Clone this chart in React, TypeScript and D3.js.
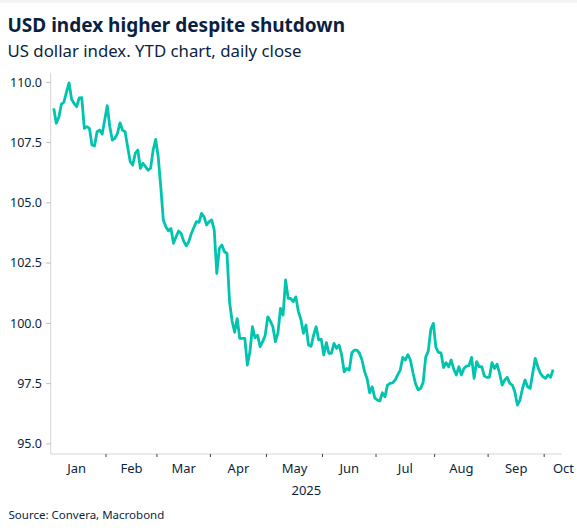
import React from "react";
import * as d3 from "d3";

// ---- Data (daily close, weekdays from 3 Jan 2025) ----
const startDate = "2025-01-03";
const jan = [108.92, 108.3, 108.55, 109.1, 109.18, 109.6, 109.98, 109.3, 109.12, 108.99, 109.35, 109.36, 108.09, 108.16, 108.09, 107.4, 107.36, 107.95, 108.02, 107.85, 108.44];
const feb = [109.03, 108.16, 107.6, 107.68, 107.88, 108.32, 108.02, 107.95, 107.33, 106.71, 106.57, 107.05, 107.19, 106.43, 106.64, 106.5, 106.36, 106.43, 107.19, 107.63];
const mar = [106.91, 105.67, 104.29, 104.01, 103.84, 103.94, 103.32, 103.59, 103.83, 103.73, 103.41, 103.22, 103.39, 103.73, 103.98, 104.22, 104.19, 104.56, 104.42, 104.08, 104.22];
const apr = [104.29, 103.87, 102.07, 103.11, 103.25, 102.97, 102.9, 100.9, 100.1, 99.63, 100.2, 99.38, 99.38, 99.38, 98.27, 98.82, 99.86, 99.4, 99.51, 99.03, 99.24, 99.51];
const may = [100.27, 100.1, 99.86, 99.24, 99.6, 100.62, 100.34, 101.8, 101.04, 101.04, 100.9, 101.1, 100.5, 100.17, 99.59, 99.93, 99.1, 99.05, 99.51, 99.86, 99.31, 99.34];
const jun = [98.69, 99.2, 98.76, 98.76, 99.17, 98.96, 99.1, 98.7, 97.99, 98.13, 98.06, 98.78, 98.89, 98.89, 98.76, 98.48, 98.0, 97.7, 97.12, 97.37, 96.91];
const jul = [96.82, 96.78, 97.12, 96.95, 97.44, 97.51, 97.53, 97.65, 97.86, 98.06, 98.59, 98.48, 98.7, 98.48, 97.95, 97.5, 97.25, 97.3, 97.55, 98.6, 98.85, 99.75, 100.0];
const aug = [99.0, 98.8, 98.78, 98.17, 98.37, 98.2, 98.48, 98.1, 97.86, 98.2, 97.86, 98.13, 98.23, 98.25, 98.59, 97.72, 98.41, 98.2, 98.2, 97.82, 97.76];
const sep = [97.76, 98.37, 98.13, 98.31, 97.93, 97.44, 97.65, 97.76, 97.51, 97.44, 97.15, 96.61, 96.82, 97.3, 97.65, 97.37, 97.3, 97.93, 98.55, 98.2, 97.93, 97.79];
const oct = [97.72, 97.86, 97.76, 98.08];

const monthLabels = ["Jan", "Feb", "Mar", "Apr", "May", "Jun", "Jul", "Aug", "Sep", "Oct"];
const yTicks = [95, 97.5, 100, 102.5, 105, 107.5, 110];
const yearLabel = "2025";
const title = "USD index higher despite shutdown";
const subtitle = "US dollar index. YTD chart, daily close";
const source = "Source: Convera, Macrobond";

const W = 577;
const H = 531;
const FONT = "'Segoe UI', 'Noto Sans', 'Open Sans', sans-serif";
const NAVY = "#0b1f3f";
const TEAL = "#00c4ae";

// all weekdays of the year up to end of October (axis is in trading days)
const allDays = d3
  .timeDay.range(new Date(2025, 0, 1), new Date(2025, 10, 1))
  .filter((d) => d.getDay() !== 0 && d.getDay() !== 6);
const dayIndex = (d: Date) => allDays.findIndex((x) => +x === +d);

export default function App() {
  const values = [...jan, ...feb, ...mar, ...apr, ...may, ...jun, ...jul, ...aug, ...sep, ...oct];
  const s = d3.timeParse("%Y-%m-%d")(startDate)!;
  const startIdx = dayIndex(s);
  const data = values.map((v, i) => ({ i: startIdx + i, v }));

  const x = d3.scaleLinear().domain([0.8, 201.5]).range([50.7, 562]);
  const y = d3.scaleLinear().domain([94.58, 110.4]).range([454, 72.7]);

  const line = d3
    .line<{ i: number; v: number }>()
    .x((d) => x(d.i))
    .y((d) => y(d.v));

  // month boundaries (first weekday index - 0.5)
  const monthStarts = d3.range(0, 10).map((m) => dayIndex(allDays.find((d) => d.getMonth() === m)!) - 0.5);
  const monthEnd = allDays.length - 0.5;
  const [x0, x1] = x.range();
  const [yb, yt] = y.range();

  return (
    <svg width={W} height={H} style={{ position: "absolute", left: 0, top: 0, background: "#fff" }} fontFamily={FONT}>
      <rect x={0} y={0} width={W} height={2.7} fill="#f3f3f3" />
      <text x={7.5} y={32.3} fontSize={19} fontWeight={700} fill={NAVY}>{title}</text>
      <text x={7.5} y={56.7} fontSize={16.8} fill={NAVY}>{subtitle}</text>

      {/* y axis */}
      <line x1={x0} x2={x0} y1={yt} y2={yb} stroke="#d6d6d6" strokeWidth={1} />
      {yTicks.map((t) => (
        <g key={t}>
          <line x1={x0 - 4.5} x2={x0} y1={y(t)} y2={y(t)} stroke="#bdbdbd" strokeWidth={1} />
          <text x={42} y={y(t)} dy="0.35em" textAnchor="end" fontSize={12.5} fill={NAVY}>
            {t.toFixed(1)}
          </text>
        </g>
      ))}

      {/* x axis */}
      <line x1={x0} x2={x1} y1={yb} y2={yb} stroke="#d6d6d6" strokeWidth={1.2} />
      {monthStarts.slice(1).map((m, k) => (
        <line key={k} x1={x(m)} x2={x(m)} y1={yb} y2={yb + 3} stroke="#444" strokeWidth={1} />
      ))}
      {monthLabels.map((lab, k) => {
        const a = monthStarts[k];
        const b = k + 1 < monthStarts.length ? monthStarts[k + 1] : monthEnd;
        let cx = x((a + b) / 2);
        let anchor: "middle" | "end" = "middle";
        if (cx + 12 > W) {
          cx = W - 3;
          anchor = "end";
        }
        return (
          <text key={lab} x={cx} y={472.5} textAnchor={anchor} fontSize={13} fill={NAVY}>
            {lab}
          </text>
        );
      })}
      <text x={(x0 + x1) / 2} y={495} textAnchor="middle" fontSize={13} fill={NAVY}>{yearLabel}</text>

      <path d={line(data) || ""} fill="none" stroke={TEAL} strokeWidth={2.8} strokeLinejoin="round" strokeLinecap="butt" />

      <text x={8.5} y={519} fontSize={11.5} fill={NAVY}>{source}</text>
    </svg>
  );
}
